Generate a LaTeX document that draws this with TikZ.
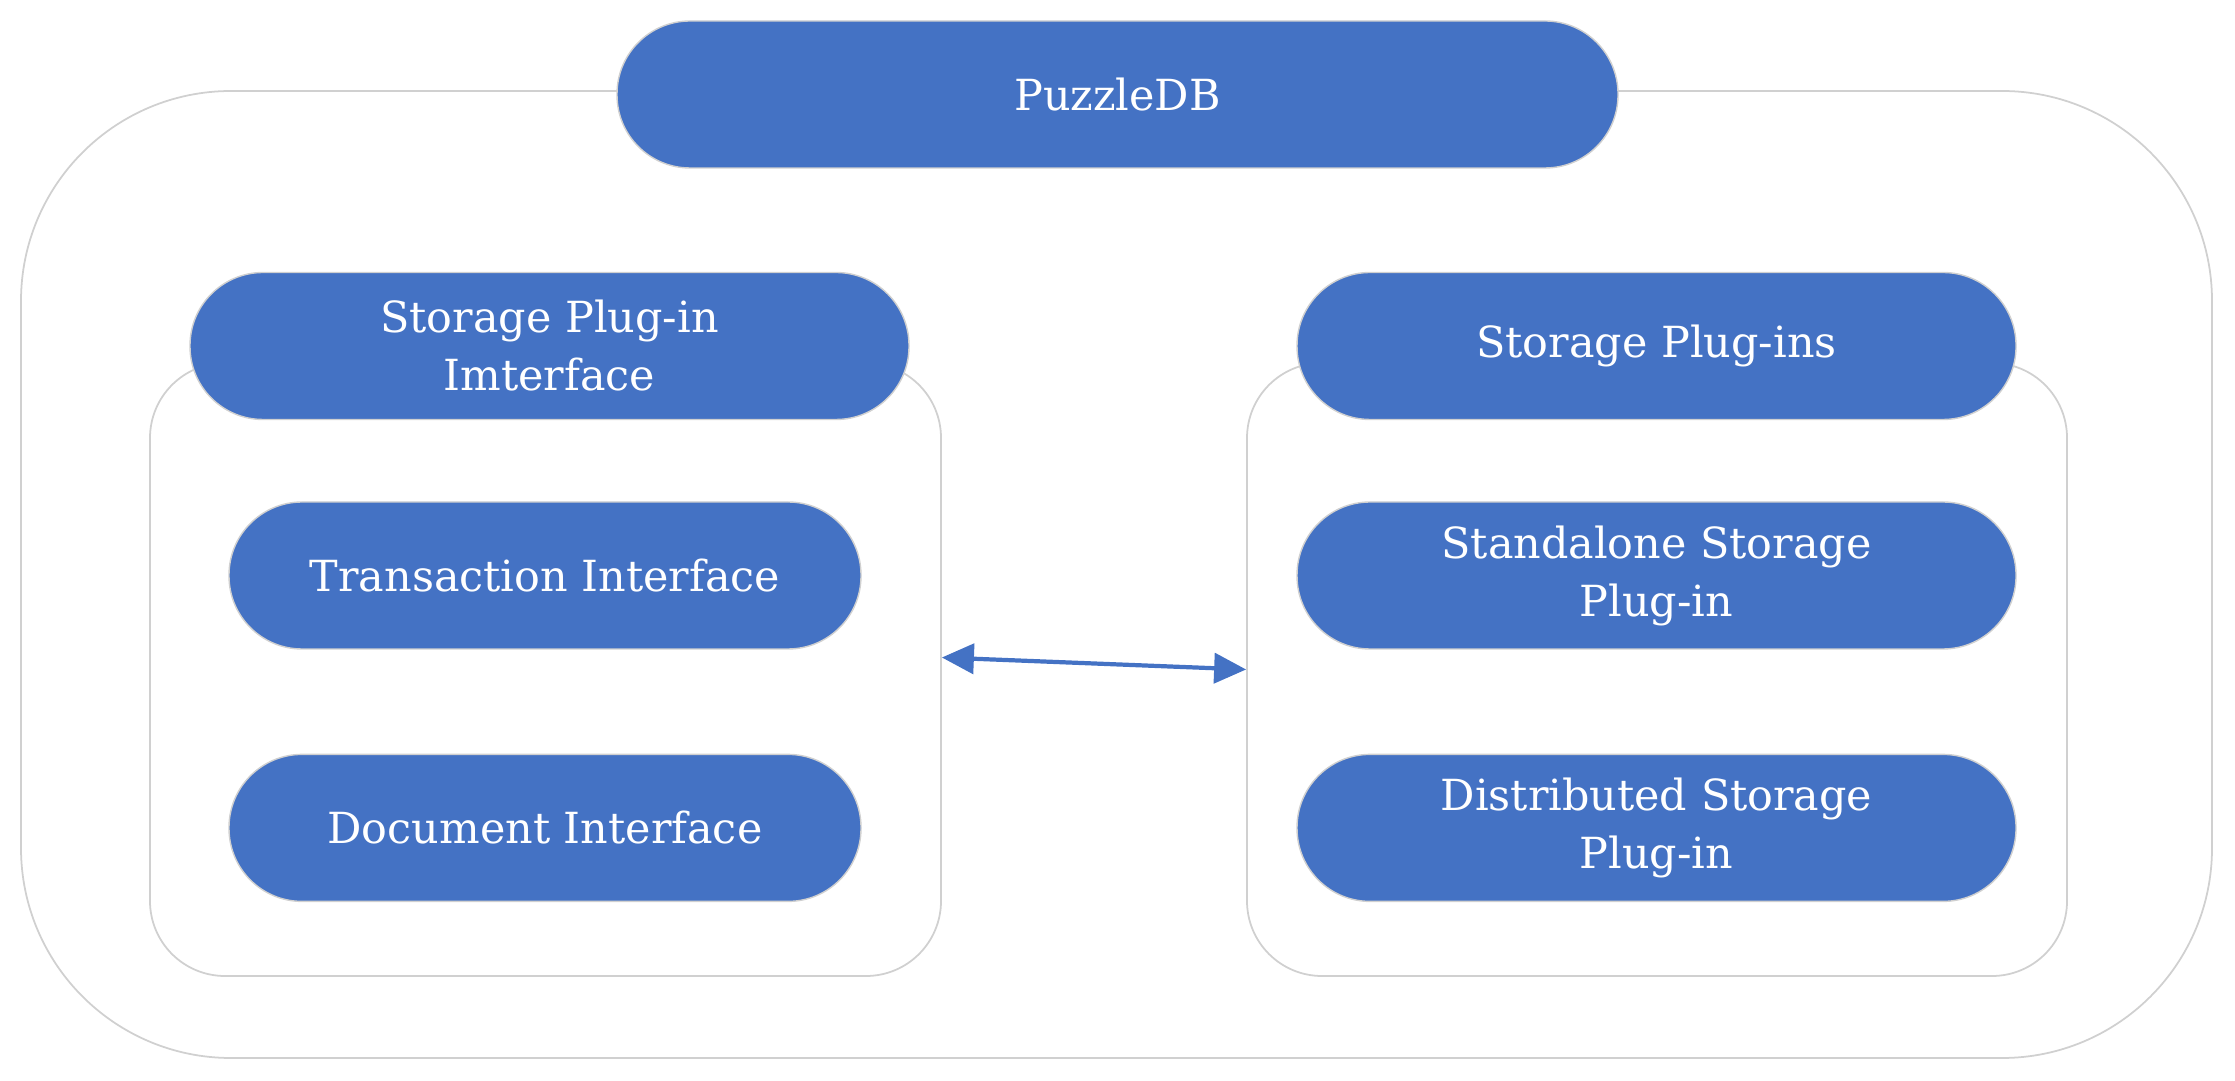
\documentclass[tikz,border=0pt]{standalone}
\usepackage{xcolor}
\usepackage{fontspec}
\setmainfont{DejaVu Serif}
\usetikzlibrary{positioning, arrows.meta}

\definecolor{pillblue}{HTML}{4472C4}
\definecolor{boxgray}{HTML}{D0D0D0}

\begin{document}
\begin{tikzpicture}[
    pill/.style={draw=boxgray, line width=0.4pt, fill=pillblue, text=white,
        rounded corners=0.73cm, minimum height=1.47cm, inner sep=0pt,
        align=center, font=\fontsize{12.2}{16.5}\selectfont},
    group/.style={draw=boxgray, line width=0.5pt, rounded corners=0.75cm,
        minimum height=6.13cm, inner sep=0pt},
    link/.style={draw=pillblue, line width=1.2pt,
        {Triangle[length=0.32cm,width=0.3cm]}-{Triangle[length=0.32cm,width=0.3cm]}}]
        \useasboundingbox (0,0) rectangle (22.35,-10.81);

        % the outer frame and its title
        \node[group, rounded corners=2.1cm, minimum width=21.91cm, minimum height=9.67cm] (frame) at (11.165,-5.745) {};
        \node[pill, minimum width=10.01cm] (puzzledb) at (11.175,-0.945) {PuzzleDB};

        % left group
        \node[group, minimum width=7.91cm] (lbox) at (5.455,-6.695) {};
        \node[pill, minimum width=7.19cm] (lhead) at (5.495,-3.46) {Storage Plug-in\\Imterface};
        \node[pill, minimum width=6.32cm] (trans) at (5.45,-5.755) {Transaction Interface};
        \node[pill, minimum width=6.32cm, below=1.04cm of trans] (doc) {Document Interface};

        % right group
        \node[group, minimum width=8.20cm] (rbox) at (16.57,-6.695) {};
        \node[pill, minimum width=7.19cm] (rhead) at (16.565,-3.46) {Storage Plug-ins};
        \node[pill, minimum width=7.19cm] (alone) at (16.565,-5.755) {Standalone Storage\\Plug-in};
        \node[pill, minimum width=7.19cm, below=1.04cm of alone] (distrib) {Distributed Storage\\Plug-in};

        % the link between the groups
        \draw[link] ([yshift=0.12cm]lbox.east) -- (rbox.west);
    \end{tikzpicture}
\end{document}
